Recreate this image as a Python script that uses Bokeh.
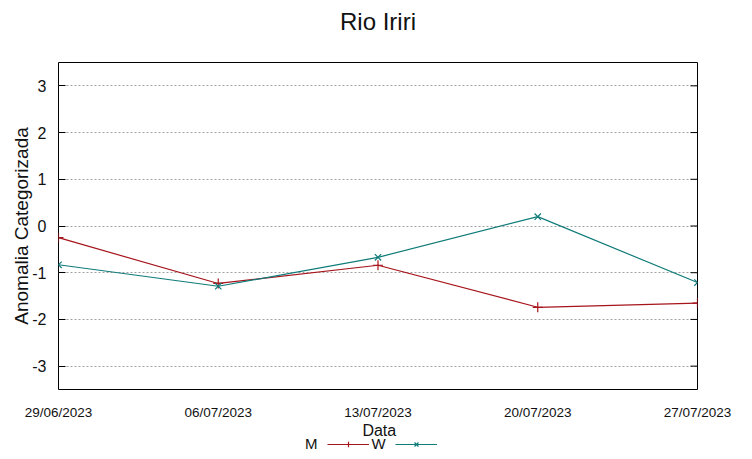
import pandas as pd
from bokeh.plotting import figure
from bokeh.layouts import column
from bokeh.models import (Range1d, FixedTicker, DatetimeTickFormatter,
                          Legend, LegendItem, Title, Label)
from bokeh.embed import file_html
from bokeh.resources import INLINE

# ---- data ----
dates = ["29/06/2023", "06/07/2023", "13/07/2023", "20/07/2023", "27/07/2023"]
m_values = [-0.25, -1.23, -0.84, -1.74, -1.65]
w_values = [-0.83, -1.29, -0.67, 0.20, -1.21]
y_ticks = [-3, -2, -1, 0, 1, 2, 3]
y_tick_labels = ["-3", "-2", "-1", "0", "1", "2", "3"]
series_names = ["M", "W"]
x_label = "Data"

x = pd.to_datetime(dates, dayfirst=True)

FONT = "Liberation Sans"
RED = "#a6141c"
TEAL = "#107c7a"
TXT = "#111111"

p = figure(frame_width=639, frame_height=327, output_backend="svg",
           toolbar_location=None, x_axis_type="datetime",
           x_range=Range1d(x[0], x[-1]), y_range=Range1d(-3.5, 3.5),
           min_border_left=58, min_border_right=55, min_border_top=62,
           min_border_bottom=34)

# trailing empty line lifts the title within the top panel
p.title = Title(text="Rio Iriri\n", align="center", text_font=FONT,
                text_font_size="24px", text_font_style="normal",
                text_color=TXT, standoff=0, vertical_align="top",
                text_line_height=0.95)

p.outline_line_color = "#000000"
p.outline_line_width = 1

# grid
p.xgrid.visible = False
p.ygrid.ticker = FixedTicker(ticks=y_ticks)
p.ygrid.grid_line_color = "#a0a0a0"
p.ygrid.grid_line_dash = "2 2"
p.ygrid.grid_line_width = 1

# x axis
xa = p.xaxis[0]
xa.ticker = FixedTicker(ticks=[d.value / 1e6 for d in x])
xa.formatter = DatetimeTickFormatter(days="%d/%m/%Y", months="%d/%m/%Y",
                                     years="%d/%m/%Y", hours="%d/%m/%Y")
xa.major_tick_in = 0
xa.major_tick_out = 0
xa.minor_tick_in = 0
xa.minor_tick_out = 0
xa.axis_line_color = None
xa.major_label_standoff = 15
xa.major_label_text_font = FONT
xa.major_label_text_font_size = "13.5px"
xa.major_label_text_color = TXT

# y axis
ya = p.yaxis[0]
ya.ticker = FixedTicker(ticks=y_ticks)
ya.major_label_overrides = dict(zip(y_ticks, y_tick_labels))
ya.major_tick_in = 7
ya.major_tick_out = 0
ya.minor_tick_in = 0
ya.minor_tick_out = 0
ya.axis_line_color = None
ya.major_label_standoff = 12
ya.major_label_text_font = FONT
ya.major_label_text_font_size = "16px"
ya.major_label_text_color = TXT
ya.axis_label = "Anomalia Categorizada"
ya.axis_label_text_font = FONT
ya.axis_label_text_font_size = "19px"
ya.axis_label_text_font_style = "normal"
ya.axis_label_text_color = TXT
ya.axis_label_standoff = -3

# right mirror ticks (dash markers at the right edge, clipped by the frame)
p.scatter([x[-1]] * len(y_ticks), y_ticks, marker="dash", size=14,
          line_color="#000000", line_width=1)

# series
p.line(x, m_values, line_color=RED, line_width=1.2)
p.scatter(x, m_values, marker="cross", size=10, line_color=RED, line_width=1.2)
p.line(x, w_values, line_color=TEAL, line_width=1.2)
p.scatter(x, w_values, marker="x", size=9, line_color=TEAL, line_width=1.2)

# ---- strip below the plot: x-axis title and gnuplot-style key ----
lg = figure(width=752, height=36, output_backend="svg", toolbar_location=None,
            x_range=Range1d(0, 752), y_range=Range1d(0, 36),
            min_border=0, x_axis_location=None, y_axis_location=None)
lg.outline_line_color = None
lg.xgrid.visible = False
lg.ygrid.visible = False

lg.add_layout(Label(x=377.5, y=29, text=x_label, text_align="center",
                    text_baseline="middle", text_font=FONT,
                    text_font_size="16px", text_color=TXT))

# same series, outside this strip's view: only their key samples show
lm = lg.line(x, m_values, line_color=RED, line_width=1.2)
sm = lg.scatter(x, m_values, marker="cross", size=10, line_color=RED, line_width=1.2)
lw = lg.line(x, w_values, line_color=TEAL, line_width=1.2)
sw = lg.scatter(x, w_values, marker="x", size=9, line_color=TEAL, line_width=1.2)

legend = Legend(items=[
    LegendItem(label=series_names[0], renderers=[]),
    LegendItem(label=series_names[1], renderers=[lm, sm]),
    LegendItem(label=" ", renderers=[lw, sw]),
], orientation="horizontal", location=(202, 7), padding=0, margin=0,
    spacing=9, label_standoff=3, glyph_width=42, glyph_height=14,
    label_width=0, label_height=14,
    label_text_font=FONT, label_text_font_size="15px", label_text_color=TXT,
    border_line_color=None, background_fill_alpha=0)
lg.add_layout(legend, "center")

layout = column(p, lg, spacing=0)
open("out.html", "w").write(file_html(layout, INLINE))
